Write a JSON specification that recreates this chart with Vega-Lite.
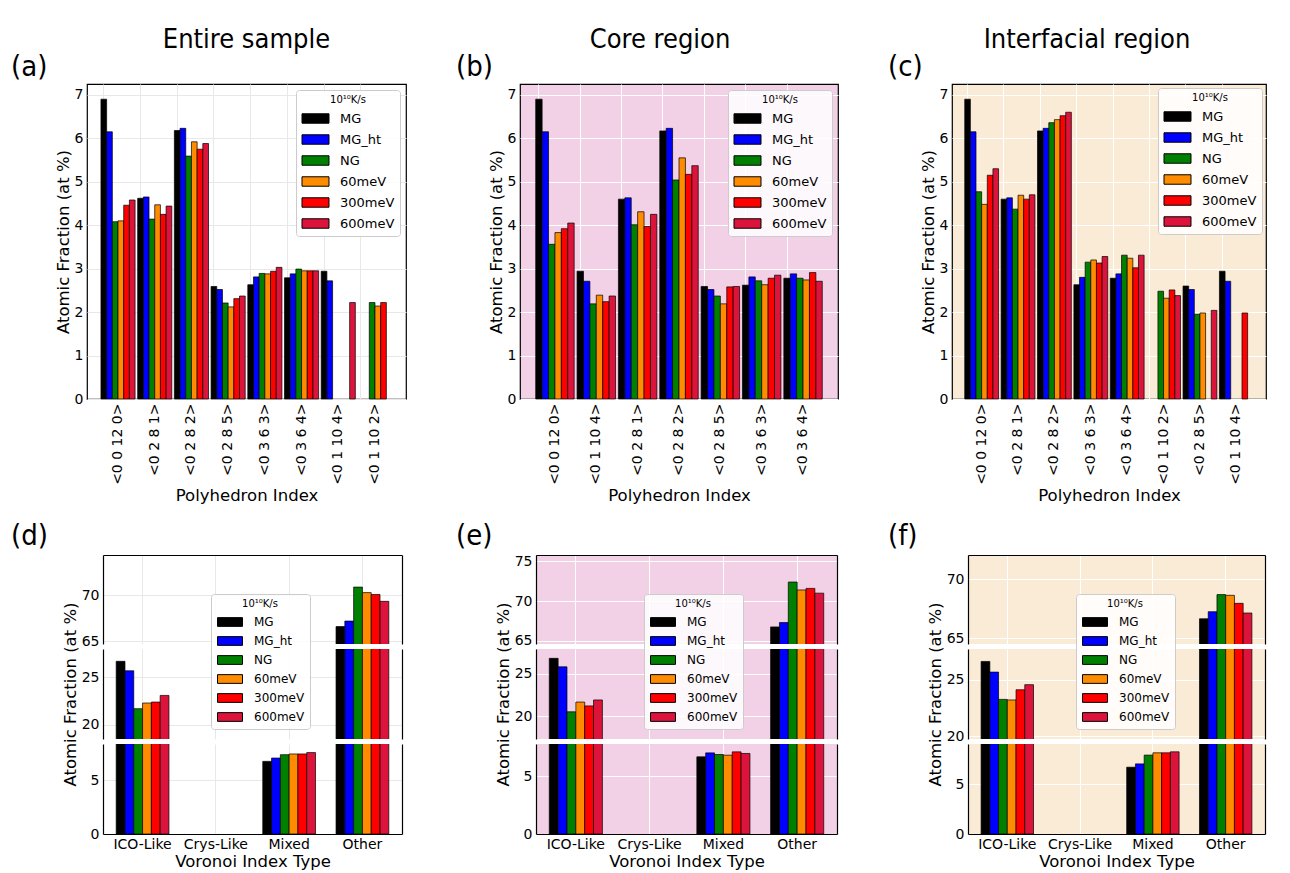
{
"$schema": "https://vega.github.io/schema/vega-lite/v6.json",
"padding": {"left": 10, "top": 26, "right": 5, "bottom": 5},
"config": {
  "font": "DejaVu Sans",
  "title": {"font": "DejaVu Sans Condensed, sans-serif", "fontWeight": "normal", "color": "black", "fontSize": 29},
  "axis": {"labelFont": "DejaVu Sans", "titleFont": "DejaVu Sans", "labelColor": "black", "titleColor": "black", "titleFontWeight": "normal", "labelFontSize": 14, "titleFontSize": 16.5, "ticks": false, "domain": false, "labelPadding": 4, "titlePadding": 3, "gridColor": "#e8e8e8"},
  "legend": {"titleFont": "DejaVu Sans", "labelFont": "DejaVu Sans", "titleFontSize": 10, "titleFontWeight": "normal", "labelFontSize": 13, "titleAnchor": "middle", "symbolType": "M-2,-0.7H2V0.7H-2Z", "symbolSize": 182, "symbolStrokeColor": "black", "symbolStrokeWidth": 1, "symbolOffset": 7, "labelOffset": 17, "fillColor": "rgba(255,255,255,0.85)", "strokeColor": "#cccccc", "cornerRadius": 3, "padding": 5, "rowPadding": 6, "titlePadding": 6, "labelColor": "black", "titleColor": "black"}
},
"datasets": {
  "a": [
    {"i":"<0 0 12 0>","s":"MG","v":6.90},{"i":"<0 0 12 0>","s":"MG_ht","v":6.15},{"i":"<0 0 12 0>","s":"NG","v":4.08},{"i":"<0 0 12 0>","s":"60meV","v":4.10},{"i":"<0 0 12 0>","s":"300meV","v":4.46},{"i":"<0 0 12 0>","s":"600meV","v":4.58},
    {"i":"<0 2 8 1>","s":"MG","v":4.62},{"i":"<0 2 8 1>","s":"MG_ht","v":4.65},{"i":"<0 2 8 1>","s":"NG","v":4.14},{"i":"<0 2 8 1>","s":"60meV","v":4.47},{"i":"<0 2 8 1>","s":"300meV","v":4.25},{"i":"<0 2 8 1>","s":"600meV","v":4.44},
    {"i":"<0 2 8 2>","s":"MG","v":6.18},{"i":"<0 2 8 2>","s":"MG_ht","v":6.23},{"i":"<0 2 8 2>","s":"NG","v":5.59},{"i":"<0 2 8 2>","s":"60meV","v":5.92},{"i":"<0 2 8 2>","s":"300meV","v":5.75},{"i":"<0 2 8 2>","s":"600meV","v":5.88},
    {"i":"<0 2 8 5>","s":"MG","v":2.59},{"i":"<0 2 8 5>","s":"MG_ht","v":2.52},{"i":"<0 2 8 5>","s":"NG","v":2.21},{"i":"<0 2 8 5>","s":"60meV","v":2.12},{"i":"<0 2 8 5>","s":"300meV","v":2.31},{"i":"<0 2 8 5>","s":"600meV","v":2.37},
    {"i":"<0 3 6 3>","s":"MG","v":2.63},{"i":"<0 3 6 3>","s":"MG_ht","v":2.81},{"i":"<0 3 6 3>","s":"NG","v":2.89},{"i":"<0 3 6 3>","s":"60meV","v":2.88},{"i":"<0 3 6 3>","s":"300meV","v":2.94},{"i":"<0 3 6 3>","s":"600meV","v":3.03},
    {"i":"<0 3 6 4>","s":"MG","v":2.79},{"i":"<0 3 6 4>","s":"MG_ht","v":2.88},{"i":"<0 3 6 4>","s":"NG","v":2.99},{"i":"<0 3 6 4>","s":"60meV","v":2.95},{"i":"<0 3 6 4>","s":"300meV","v":2.95},{"i":"<0 3 6 4>","s":"600meV","v":2.95},
    {"i":"<0 1 10 4>","s":"MG","v":2.94},{"i":"<0 1 10 4>","s":"MG_ht","v":2.72},{"i":"<0 1 10 4>","s":"600meV","v":2.22},
    {"i":"<0 1 10 2>","s":"NG","v":2.22},{"i":"<0 1 10 2>","s":"60meV","v":2.14},{"i":"<0 1 10 2>","s":"300meV","v":2.22}
  ],
  "b": [
    {"i":"<0 0 12 0>","s":"MG","v":6.90},{"i":"<0 0 12 0>","s":"MG_ht","v":6.15},{"i":"<0 0 12 0>","s":"NG","v":3.56},{"i":"<0 0 12 0>","s":"60meV","v":3.83},{"i":"<0 0 12 0>","s":"300meV","v":3.92},{"i":"<0 0 12 0>","s":"600meV","v":4.05},
    {"i":"<0 1 10 4>","s":"MG","v":2.94},{"i":"<0 1 10 4>","s":"MG_ht","v":2.71},{"i":"<0 1 10 4>","s":"NG","v":2.19},{"i":"<0 1 10 4>","s":"60meV","v":2.39},{"i":"<0 1 10 4>","s":"300meV","v":2.24},{"i":"<0 1 10 4>","s":"600meV","v":2.37},
    {"i":"<0 2 8 1>","s":"MG","v":4.60},{"i":"<0 2 8 1>","s":"MG_ht","v":4.63},{"i":"<0 2 8 1>","s":"NG","v":4.01},{"i":"<0 2 8 1>","s":"60meV","v":4.31},{"i":"<0 2 8 1>","s":"300meV","v":3.97},{"i":"<0 2 8 1>","s":"600meV","v":4.25},
    {"i":"<0 2 8 2>","s":"MG","v":6.17},{"i":"<0 2 8 2>","s":"MG_ht","v":6.23},{"i":"<0 2 8 2>","s":"NG","v":5.04},{"i":"<0 2 8 2>","s":"60meV","v":5.55},{"i":"<0 2 8 2>","s":"300meV","v":5.17},{"i":"<0 2 8 2>","s":"600meV","v":5.37},
    {"i":"<0 2 8 5>","s":"MG","v":2.59},{"i":"<0 2 8 5>","s":"MG_ht","v":2.52},{"i":"<0 2 8 5>","s":"NG","v":2.37},{"i":"<0 2 8 5>","s":"60meV","v":2.19},{"i":"<0 2 8 5>","s":"300meV","v":2.58},{"i":"<0 2 8 5>","s":"600meV","v":2.59},
    {"i":"<0 3 6 3>","s":"MG","v":2.62},{"i":"<0 3 6 3>","s":"MG_ht","v":2.81},{"i":"<0 3 6 3>","s":"NG","v":2.72},{"i":"<0 3 6 3>","s":"60meV","v":2.63},{"i":"<0 3 6 3>","s":"300meV","v":2.78},{"i":"<0 3 6 3>","s":"600meV","v":2.85},
    {"i":"<0 3 6 4>","s":"MG","v":2.78},{"i":"<0 3 6 4>","s":"MG_ht","v":2.88},{"i":"<0 3 6 4>","s":"NG","v":2.78},{"i":"<0 3 6 4>","s":"60meV","v":2.74},{"i":"<0 3 6 4>","s":"300meV","v":2.91},{"i":"<0 3 6 4>","s":"600meV","v":2.71}
  ],
  "c": [
    {"i":"<0 0 12 0>","s":"MG","v":6.90},{"i":"<0 0 12 0>","s":"MG_ht","v":6.15},{"i":"<0 0 12 0>","s":"NG","v":4.77},{"i":"<0 0 12 0>","s":"60meV","v":4.48},{"i":"<0 0 12 0>","s":"300meV","v":5.15},{"i":"<0 0 12 0>","s":"600meV","v":5.30},
    {"i":"<0 2 8 1>","s":"MG","v":4.60},{"i":"<0 2 8 1>","s":"MG_ht","v":4.63},{"i":"<0 2 8 1>","s":"NG","v":4.37},{"i":"<0 2 8 1>","s":"60meV","v":4.69},{"i":"<0 2 8 1>","s":"300meV","v":4.60},{"i":"<0 2 8 1>","s":"600meV","v":4.70},
    {"i":"<0 2 8 2>","s":"MG","v":6.17},{"i":"<0 2 8 2>","s":"MG_ht","v":6.23},{"i":"<0 2 8 2>","s":"NG","v":6.36},{"i":"<0 2 8 2>","s":"60meV","v":6.43},{"i":"<0 2 8 2>","s":"300meV","v":6.52},{"i":"<0 2 8 2>","s":"600meV","v":6.60},
    {"i":"<0 3 6 3>","s":"MG","v":2.63},{"i":"<0 3 6 3>","s":"MG_ht","v":2.80},{"i":"<0 3 6 3>","s":"NG","v":3.15},{"i":"<0 3 6 3>","s":"60meV","v":3.20},{"i":"<0 3 6 3>","s":"300meV","v":3.13},{"i":"<0 3 6 3>","s":"600meV","v":3.28},
    {"i":"<0 3 6 4>","s":"MG","v":2.78},{"i":"<0 3 6 4>","s":"MG_ht","v":2.88},{"i":"<0 3 6 4>","s":"NG","v":3.31},{"i":"<0 3 6 4>","s":"60meV","v":3.24},{"i":"<0 3 6 4>","s":"300meV","v":3.02},{"i":"<0 3 6 4>","s":"600meV","v":3.31},
    {"i":"<0 1 10 2>","s":"NG","v":2.48},{"i":"<0 1 10 2>","s":"60meV","v":2.32},{"i":"<0 1 10 2>","s":"300meV","v":2.51},{"i":"<0 1 10 2>","s":"600meV","v":2.38},
    {"i":"<0 2 8 5>","s":"MG","v":2.60},{"i":"<0 2 8 5>","s":"MG_ht","v":2.52},{"i":"<0 2 8 5>","s":"NG","v":1.95},{"i":"<0 2 8 5>","s":"60meV","v":1.98},{"i":"<0 2 8 5>","s":"600meV","v":2.04},
    {"i":"<0 1 10 4>","s":"MG","v":2.94},{"i":"<0 1 10 4>","s":"MG_ht","v":2.71},{"i":"<0 1 10 4>","s":"300meV","v":1.98}
  ],
  "d": [
    {"i":"ICO-Like","s":"MG","v":26.7},{"i":"ICO-Like","s":"MG_ht","v":25.7},{"i":"ICO-Like","s":"NG","v":21.7},{"i":"ICO-Like","s":"60meV","v":22.3},{"i":"ICO-Like","s":"300meV","v":22.4},{"i":"ICO-Like","s":"600meV","v":23.1},
    {"i":"Mixed","s":"MG","v":6.78},{"i":"Mixed","s":"MG_ht","v":7.09},{"i":"Mixed","s":"NG","v":7.40},{"i":"Mixed","s":"60meV","v":7.47},{"i":"Mixed","s":"300meV","v":7.47},{"i":"Mixed","s":"600meV","v":7.60},
    {"i":"Other","s":"MG","v":66.6},{"i":"Other","s":"MG_ht","v":67.2},{"i":"Other","s":"NG","v":70.9},{"i":"Other","s":"60meV","v":70.3},{"i":"Other","s":"300meV","v":70.1},{"i":"Other","s":"600meV","v":69.35}
  ],
  "e": [
    {"i":"ICO-Like","s":"MG","v":26.8},{"i":"ICO-Like","s":"MG_ht","v":25.8},{"i":"ICO-Like","s":"NG","v":20.5},{"i":"ICO-Like","s":"60meV","v":21.65},{"i":"ICO-Like","s":"300meV","v":21.2},{"i":"ICO-Like","s":"600meV","v":21.9},
    {"i":"Mixed","s":"MG","v":6.69},{"i":"Mixed","s":"MG_ht","v":7.03},{"i":"Mixed","s":"NG","v":6.89},{"i":"Mixed","s":"60meV","v":6.83},{"i":"Mixed","s":"300meV","v":7.12},{"i":"Mixed","s":"600meV","v":6.98},
    {"i":"Other","s":"MG","v":66.75},{"i":"Other","s":"MG_ht","v":67.3},{"i":"Other","s":"NG","v":72.4},{"i":"Other","s":"60meV","v":71.4},{"i":"Other","s":"300meV","v":71.6},{"i":"Other","s":"600meV","v":71.0}
  ],
  "f": [
    {"i":"ICO-Like","s":"MG","v":26.6},{"i":"ICO-Like","s":"MG_ht","v":25.66},{"i":"ICO-Like","s":"NG","v":23.25},{"i":"ICO-Like","s":"60meV","v":23.2},{"i":"ICO-Like","s":"300meV","v":24.1},{"i":"ICO-Like","s":"600meV","v":24.55},
    {"i":"Mixed","s":"MG","v":6.68},{"i":"Mixed","s":"MG_ht","v":7.01},{"i":"Mixed","s":"NG","v":7.89},{"i":"Mixed","s":"60meV","v":8.12},{"i":"Mixed","s":"300meV","v":8.12},{"i":"Mixed","s":"600meV","v":8.22},
    {"i":"Other","s":"MG","v":66.64},{"i":"Other","s":"MG_ht","v":67.24},{"i":"Other","s":"NG","v":68.69},{"i":"Other","s":"60meV","v":68.63},{"i":"Other","s":"300meV","v":67.95},{"i":"Other","s":"600meV","v":67.13}
  ],
  "sp": [{"z": 0}]
},
"spacing": 48,
"resolve": {"scale": {"x": "independent", "y": "independent", "xOffset": "independent", "color": "independent"}, "legend": {"color": "independent"}},
"hconcat": [
 {
  "title": {"text": "Entire sample", "anchor": "middle", "frame": "bounds", "dx": 38, "fontSize": 27, "offset": -2},
  "spacing": 16,
  "resolve": {"scale": {"x": "independent", "y": "independent", "xOffset": "independent", "color": "independent"}, "legend": {"color": "independent"}},
  "vconcat": [
   {
    "title": {"text": "(a)", "anchor": "start", "frame": "group", "dx": -76, "offset": 2},
    "width": 319, "height": 315,
    "view": {"fill": "white", "stroke": "black", "strokeWidth": 1.2},
    "data": {"name": "a"},
    "mark": {"type": "bar", "stroke": "black", "strokeWidth": 0.7},
    "encoding": {
      "x": {"field": "i", "type": "nominal", "scale": {"domain": ["<0 0 12 0>","<0 2 8 1>","<0 2 8 2>","<0 2 8 5>","<0 3 6 3>","<0 3 6 4>","<0 1 10 4>","<0 1 10 2>"], "paddingInner": 0.07, "paddingOuter": 0.38}, "axis": {"title": "Polyhedron Index", "labelAngle": 270, "bandPosition": 0.083, "grid": true}},
      "xOffset": {"field": "s", "type": "nominal", "scale": {"domain": ["MG","MG_ht","NG","60meV","300meV","600meV"], "paddingInner": 0, "paddingOuter": 0}},
      "y": {"field": "v", "type": "quantitative", "scale": {"domain": [0, 7.25], "nice": false, "zero": false}, "axis": {"values": [0,1,2,3,4,5,6,7], "title": "Atomic Fraction (at %)", "grid": true}},
      "color": {"field": "s", "type": "nominal", "scale": {"domain": ["MG","MG_ht","NG","60meV","300meV","600meV"], "range": ["#000000","#0000ff","#008000","#ff8c00","#ff0000","#dc143c"]}, "legend": {"title": "10¹⁰K/s", "orient": "top-right", "offset": 6}}
    }
   },
   {
    "title": {"text": "(d)", "anchor": "start", "frame": "group", "dx": -76, "offset": 2},
    "spacing": 15,
    "bounds": "flush",
    "resolve": {"scale": {"x": "independent", "y": "independent", "xOffset": "independent", "color": "independent"}, "legend": {"color": "independent"}},
    "hconcat": [
     {"width": 1, "height": 1, "view": {"stroke": null, "fill": null}, "data": {"name": "sp"}, "mark": {"type": "point", "opacity": 0}, "encoding": {}},
     {
      "spacing": 5,
      "bounds": "flush",
      "resolve": {"scale": {"x": "independent", "y": "independent", "xOffset": "independent", "color": "independent"}, "legend": {"color": "independent"}},
      "vconcat": [
       {
        "width": 299, "height": 89, "view": {"fill": "white", "stroke": null}, "data": {"name": "d"},
        "resolve": {"axis": {"y": "independent"}},
        "layer": [
         {"mark": {"type": "bar", "stroke": "black", "strokeWidth": 0.7, "clip": true},
          "encoding": {
            "x": {"field": "i", "type": "nominal", "scale": {"domain": ["ICO-Like","Crys-Like","Mixed","Other"], "paddingInner": 0.28, "paddingOuter": 0.18}, "axis": {"orient": "top", "labels": false, "domain": true, "domainColor": "black", "domainWidth": 1.2, "title": null, "grid": true}},
            "xOffset": {"field": "s", "type": "nominal", "scale": {"domain": ["MG","MG_ht","NG","60meV","300meV","600meV"], "paddingInner": 0, "paddingOuter": 0}},
            "y": {"field": "v", "type": "quantitative", "scale": {"domain": [64.7, 74.4], "nice": false, "zero": false}, "axis": {"values": [65, 70], "title": null, "grid": true, "domain": true, "domainColor": "black", "domainWidth": 1.2}},
            "color": {"field": "s", "type": "nominal", "scale": {"domain": ["MG","MG_ht","NG","60meV","300meV","600meV"], "range": ["#000000","#0000ff","#008000","#ff8c00","#ff0000","#dc143c"]}, "legend": null}
          }},
         {"mark": {"type": "rule", "opacity": 0, "clip": true},
          "encoding": {"y": {"field": "v", "type": "quantitative", "scale": {"domain": [64.7, 74.4], "nice": false, "zero": false}, "axis": {"orient": "right", "labels": false, "grid": false, "domain": true, "domainColor": "black", "domainWidth": 1.2, "title": null}}}}
        ]
       },
       {
        "width": 299, "height": 90, "view": {"fill": "white", "stroke": null}, "data": {"name": "d"},
        "resolve": {"axis": {"y": "independent"}},
        "layer": [
         {"mark": {"type": "bar", "stroke": "black", "strokeWidth": 0.7, "clip": true},
          "encoding": {
            "x": {"field": "i", "type": "nominal", "scale": {"domain": ["ICO-Like","Crys-Like","Mixed","Other"], "paddingInner": 0.28, "paddingOuter": 0.18}, "axis": {"labels": false, "domain": false, "title": null, "grid": true}},
            "xOffset": {"field": "s", "type": "nominal", "scale": {"domain": ["MG","MG_ht","NG","60meV","300meV","600meV"], "paddingInner": 0, "paddingOuter": 0}},
            "y": {"field": "v", "type": "quantitative", "scale": {"domain": [18.5, 28], "nice": false, "zero": false}, "axis": {"values": [20, 25], "title": "Atomic Fraction (at %)", "grid": true, "domain": true, "domainColor": "black", "domainWidth": 1.2}},
            "color": {"field": "s", "type": "nominal", "scale": {"domain": ["MG","MG_ht","NG","60meV","300meV","600meV"], "range": ["#000000","#0000ff","#008000","#ff8c00","#ff0000","#dc143c"]}, "legend": {"title": "10¹⁰K/s", "orient": "none", "legendX": 108, "legendY": -55, "labelFontSize": 12, "symbolSize": 156, "rowPadding": 5}}
          }},
         {"mark": {"type": "rule", "opacity": 0, "clip": true},
          "encoding": {"y": {"field": "v", "type": "quantitative", "scale": {"domain": [18.5, 28], "nice": false, "zero": false}, "axis": {"orient": "right", "labels": false, "grid": false, "domain": true, "domainColor": "black", "domainWidth": 1.2, "title": null}}}}
        ]
       },
       {
        "width": 299, "height": 90, "view": {"fill": "white", "stroke": null}, "data": {"name": "d"},
        "resolve": {"axis": {"y": "independent"}},
        "layer": [
         {"mark": {"type": "bar", "stroke": "black", "strokeWidth": 0.7, "clip": true},
          "encoding": {
            "x": {"field": "i", "type": "nominal", "scale": {"domain": ["ICO-Like","Crys-Like","Mixed","Other"], "paddingInner": 0.28, "paddingOuter": 0.18}, "axis": {"labelAngle": 0, "domain": true, "domainColor": "black", "domainWidth": 1.2, "title": "Voronoi Index Type", "grid": true, "labelPadding": 3, "titlePadding": 2}},
            "xOffset": {"field": "s", "type": "nominal", "scale": {"domain": ["MG","MG_ht","NG","60meV","300meV","600meV"], "paddingInner": 0, "paddingOuter": 0}},
            "y": {"field": "v", "type": "quantitative", "scale": {"domain": [0, 8.4], "nice": false, "zero": false}, "axis": {"values": [0, 5], "title": null, "grid": true, "domain": true, "domainColor": "black", "domainWidth": 1.2}},
            "color": {"field": "s", "type": "nominal", "scale": {"domain": ["MG","MG_ht","NG","60meV","300meV","600meV"], "range": ["#000000","#0000ff","#008000","#ff8c00","#ff0000","#dc143c"]}, "legend": null}
          }},
         {"mark": {"type": "rule", "opacity": 0, "clip": true},
          "encoding": {"y": {"field": "v", "type": "quantitative", "scale": {"domain": [0, 8.4], "nice": false, "zero": false}, "axis": {"orient": "right", "labels": false, "grid": false, "domain": true, "domainColor": "black", "domainWidth": 1.2, "title": null}}}}
        ]
       }
      ]
     }
    ]
   }
  ]
 },
 {
  "title": {"text": "Core region", "anchor": "middle", "frame": "bounds", "dx": 13, "fontSize": 27, "offset": -2},
  "spacing": 16,
  "resolve": {"scale": {"x": "independent", "y": "independent", "xOffset": "independent", "color": "independent"}, "legend": {"color": "independent"}},
  "vconcat": [
   {
    "title": {"text": "(b)", "anchor": "start", "frame": "group", "dx": -64, "offset": 2},
    "width": 318, "height": 315,
    "view": {"fill": "#f2d1e6", "stroke": "black", "strokeWidth": 1.2},
    "data": {"name": "b"},
    "mark": {"type": "bar", "stroke": "black", "strokeWidth": 0.7},
    "encoding": {
      "x": {"field": "i", "type": "nominal", "scale": {"domain": ["<0 0 12 0>","<0 1 10 4>","<0 2 8 1>","<0 2 8 2>","<0 2 8 5>","<0 3 6 3>","<0 3 6 4>"], "paddingInner": 0.07, "paddingOuter": 0.38}, "axis": {"title": "Polyhedron Index", "labelAngle": 270, "bandPosition": 0.083, "grid": true, "gridColor": "white"}},
      "xOffset": {"field": "s", "type": "nominal", "scale": {"domain": ["MG","MG_ht","NG","60meV","300meV","600meV"], "paddingInner": 0, "paddingOuter": 0}},
      "y": {"field": "v", "type": "quantitative", "scale": {"domain": [0, 7.25], "nice": false, "zero": false}, "axis": {"values": [0,1,2,3,4,5,6,7], "title": "Atomic Fraction (at %)", "grid": true, "gridColor": "white"}},
      "color": {"field": "s", "type": "nominal", "scale": {"domain": ["MG","MG_ht","NG","60meV","300meV","600meV"], "range": ["#000000","#0000ff","#008000","#ff8c00","#ff0000","#dc143c"]}, "legend": {"title": "10¹⁰K/s", "orient": "top-right", "offset": 6}}
    }
   },
   {
    "title": {"text": "(e)", "anchor": "start", "frame": "group", "dx": -64, "offset": 2},
    "spacing": 15,
    "bounds": "flush",
    "resolve": {"scale": {"x": "independent", "y": "independent", "xOffset": "independent", "color": "independent"}, "legend": {"color": "independent"}},
    "hconcat": [
     {"width": 1, "height": 1, "view": {"stroke": null, "fill": null}, "data": {"name": "sp"}, "mark": {"type": "point", "opacity": 0}, "encoding": {}},
     {
      "spacing": 5,
      "bounds": "flush",
      "resolve": {"scale": {"x": "independent", "y": "independent", "xOffset": "independent", "color": "independent"}, "legend": {"color": "independent"}},
      "vconcat": [
       {
        "width": 301, "height": 89, "view": {"fill": "#f2d1e6", "stroke": null}, "data": {"name": "e"},
        "resolve": {"axis": {"y": "independent"}},
        "layer": [
         {"mark": {"type": "bar", "stroke": "black", "strokeWidth": 0.7, "clip": true},
          "encoding": {
            "x": {"field": "i", "type": "nominal", "scale": {"domain": ["ICO-Like","Crys-Like","Mixed","Other"], "paddingInner": 0.28, "paddingOuter": 0.18}, "axis": {"orient": "top", "labels": false, "domain": true, "domainColor": "black", "domainWidth": 1.2, "title": null, "grid": true, "gridColor": "white"}},
            "xOffset": {"field": "s", "type": "nominal", "scale": {"domain": ["MG","MG_ht","NG","60meV","300meV","600meV"], "paddingInner": 0, "paddingOuter": 0}},
            "y": {"field": "v", "type": "quantitative", "scale": {"domain": [64.6, 75.8], "nice": false, "zero": false}, "axis": {"values": [65, 70, 75], "title": null, "grid": true, "gridColor": "white", "domain": true, "domainColor": "black", "domainWidth": 1.2}},
            "color": {"field": "s", "type": "nominal", "scale": {"domain": ["MG","MG_ht","NG","60meV","300meV","600meV"], "range": ["#000000","#0000ff","#008000","#ff8c00","#ff0000","#dc143c"]}, "legend": null}
          }},
         {"mark": {"type": "rule", "opacity": 0, "clip": true},
          "encoding": {"y": {"field": "v", "type": "quantitative", "scale": {"domain": [64.6, 75.8], "nice": false, "zero": false}, "axis": {"orient": "right", "labels": false, "grid": false, "domain": true, "domainColor": "black", "domainWidth": 1.2, "title": null}}}}
        ]
       },
       {
        "width": 301, "height": 90, "view": {"fill": "#f2d1e6", "stroke": null}, "data": {"name": "e"},
        "resolve": {"axis": {"y": "independent"}},
        "layer": [
         {"mark": {"type": "bar", "stroke": "black", "strokeWidth": 0.7, "clip": true},
          "encoding": {
            "x": {"field": "i", "type": "nominal", "scale": {"domain": ["ICO-Like","Crys-Like","Mixed","Other"], "paddingInner": 0.28, "paddingOuter": 0.18}, "axis": {"labels": false, "domain": false, "title": null, "grid": true, "gridColor": "white"}},
            "xOffset": {"field": "s", "type": "nominal", "scale": {"domain": ["MG","MG_ht","NG","60meV","300meV","600meV"], "paddingInner": 0, "paddingOuter": 0}},
            "y": {"field": "v", "type": "quantitative", "scale": {"domain": [17.3, 27.9], "nice": false, "zero": false}, "axis": {"values": [20, 25], "title": "Atomic Fraction (at %)", "grid": true, "gridColor": "white", "domain": true, "domainColor": "black", "domainWidth": 1.2}},
            "color": {"field": "s", "type": "nominal", "scale": {"domain": ["MG","MG_ht","NG","60meV","300meV","600meV"], "range": ["#000000","#0000ff","#008000","#ff8c00","#ff0000","#dc143c"]}, "legend": {"title": "10¹⁰K/s", "orient": "none", "legendX": 108, "legendY": -55, "labelFontSize": 12, "symbolSize": 156, "rowPadding": 5}}
          }},
         {"mark": {"type": "rule", "opacity": 0, "clip": true},
          "encoding": {"y": {"field": "v", "type": "quantitative", "scale": {"domain": [17.3, 27.9], "nice": false, "zero": false}, "axis": {"orient": "right", "labels": false, "grid": false, "domain": true, "domainColor": "black", "domainWidth": 1.2, "title": null}}}}
        ]
       },
       {
        "width": 301, "height": 90, "view": {"fill": "#f2d1e6", "stroke": null}, "data": {"name": "e"},
        "resolve": {"axis": {"y": "independent"}},
        "layer": [
         {"mark": {"type": "bar", "stroke": "black", "strokeWidth": 0.7, "clip": true},
          "encoding": {
            "x": {"field": "i", "type": "nominal", "scale": {"domain": ["ICO-Like","Crys-Like","Mixed","Other"], "paddingInner": 0.28, "paddingOuter": 0.18}, "axis": {"labelAngle": 0, "domain": true, "domainColor": "black", "domainWidth": 1.2, "title": "Voronoi Index Type", "grid": true, "gridColor": "white", "labelPadding": 3, "titlePadding": 2}},
            "xOffset": {"field": "s", "type": "nominal", "scale": {"domain": ["MG","MG_ht","NG","60meV","300meV","600meV"], "paddingInner": 0, "paddingOuter": 0}},
            "y": {"field": "v", "type": "quantitative", "scale": {"domain": [0, 7.8], "nice": false, "zero": false}, "axis": {"values": [0, 5], "title": null, "grid": true, "gridColor": "white", "domain": true, "domainColor": "black", "domainWidth": 1.2}},
            "color": {"field": "s", "type": "nominal", "scale": {"domain": ["MG","MG_ht","NG","60meV","300meV","600meV"], "range": ["#000000","#0000ff","#008000","#ff8c00","#ff0000","#dc143c"]}, "legend": null}
          }},
         {"mark": {"type": "rule", "opacity": 0, "clip": true},
          "encoding": {"y": {"field": "v", "type": "quantitative", "scale": {"domain": [0, 7.8], "nice": false, "zero": false}, "axis": {"orient": "right", "labels": false, "grid": false, "domain": true, "domainColor": "black", "domainWidth": 1.2, "title": null}}}}
        ]
       }
      ]
     }
    ]
   }
  ]
 },
 {
  "title": {"text": "Interfacial region", "anchor": "middle", "frame": "bounds", "dx": 10, "fontSize": 27, "offset": -2},
  "spacing": 16,
  "resolve": {"scale": {"x": "independent", "y": "independent", "xOffset": "independent", "color": "independent"}, "legend": {"color": "independent"}},
  "vconcat": [
   {
    "title": {"text": "(c)", "anchor": "start", "frame": "group", "dx": -64, "offset": 2},
    "width": 314, "height": 315,
    "view": {"fill": "#faebd7", "stroke": "black", "strokeWidth": 1.2},
    "data": {"name": "c"},
    "mark": {"type": "bar", "stroke": "black", "strokeWidth": 0.7},
    "encoding": {
      "x": {"field": "i", "type": "nominal", "scale": {"domain": ["<0 0 12 0>","<0 2 8 1>","<0 2 8 2>","<0 3 6 3>","<0 3 6 4>","<0 1 10 2>","<0 2 8 5>","<0 1 10 4>"], "paddingInner": 0.07, "paddingOuter": 0.35}, "axis": {"title": "Polyhedron Index", "labelAngle": 270, "bandPosition": 0.083, "grid": true, "gridColor": "white"}},
      "xOffset": {"field": "s", "type": "nominal", "scale": {"domain": ["MG","MG_ht","NG","60meV","300meV","600meV"], "paddingInner": 0, "paddingOuter": 0}},
      "y": {"field": "v", "type": "quantitative", "scale": {"domain": [0, 7.25], "nice": false, "zero": false}, "axis": {"values": [0,1,2,3,4,5,6,7], "title": "Atomic Fraction (at %)", "grid": true, "gridColor": "white"}},
      "color": {"field": "s", "type": "nominal", "scale": {"domain": ["MG","MG_ht","NG","60meV","300meV","600meV"], "range": ["#000000","#0000ff","#008000","#ff8c00","#ff0000","#dc143c"]}, "legend": {"title": "10¹⁰K/s", "orient": "top-right", "offset": 4}}
    }
   },
   {
    "title": {"text": "(f)", "anchor": "start", "frame": "group", "dx": -64, "offset": 2},
    "spacing": 15,
    "bounds": "flush",
    "resolve": {"scale": {"x": "independent", "y": "independent", "xOffset": "independent", "color": "independent"}, "legend": {"color": "independent"}},
    "hconcat": [
     {"width": 1, "height": 1, "view": {"stroke": null, "fill": null}, "data": {"name": "sp"}, "mark": {"type": "point", "opacity": 0}, "encoding": {}},
     {
      "spacing": 5,
      "bounds": "flush",
      "resolve": {"scale": {"x": "independent", "y": "independent", "xOffset": "independent", "color": "independent"}, "legend": {"color": "independent"}},
      "vconcat": [
       {
        "width": 297, "height": 89, "view": {"fill": "#faebd7", "stroke": null}, "data": {"name": "f"},
        "resolve": {"axis": {"y": "independent"}},
        "layer": [
         {"mark": {"type": "bar", "stroke": "black", "strokeWidth": 0.7, "clip": true},
          "encoding": {
            "x": {"field": "i", "type": "nominal", "scale": {"domain": ["ICO-Like","Crys-Like","Mixed","Other"], "paddingInner": 0.28, "paddingOuter": 0.18}, "axis": {"orient": "top", "labels": false, "domain": true, "domainColor": "black", "domainWidth": 1.2, "title": null, "grid": true, "gridColor": "white"}},
            "xOffset": {"field": "s", "type": "nominal", "scale": {"domain": ["MG","MG_ht","NG","60meV","300meV","600meV"], "paddingInner": 0, "paddingOuter": 0}},
            "y": {"field": "v", "type": "quantitative", "scale": {"domain": [64.5, 72.05], "nice": false, "zero": false}, "axis": {"values": [65, 70], "title": null, "grid": true, "gridColor": "white", "domain": true, "domainColor": "black", "domainWidth": 1.2}},
            "color": {"field": "s", "type": "nominal", "scale": {"domain": ["MG","MG_ht","NG","60meV","300meV","600meV"], "range": ["#000000","#0000ff","#008000","#ff8c00","#ff0000","#dc143c"]}, "legend": null}
          }},
         {"mark": {"type": "rule", "opacity": 0, "clip": true},
          "encoding": {"y": {"field": "v", "type": "quantitative", "scale": {"domain": [64.5, 72.05], "nice": false, "zero": false}, "axis": {"orient": "right", "labels": false, "grid": false, "domain": true, "domainColor": "black", "domainWidth": 1.2, "title": null}}}}
        ]
       },
       {
        "width": 297, "height": 90, "view": {"fill": "#faebd7", "stroke": null}, "data": {"name": "f"},
        "resolve": {"axis": {"y": "independent"}},
        "layer": [
         {"mark": {"type": "bar", "stroke": "black", "strokeWidth": 0.7, "clip": true},
          "encoding": {
            "x": {"field": "i", "type": "nominal", "scale": {"domain": ["ICO-Like","Crys-Like","Mixed","Other"], "paddingInner": 0.28, "paddingOuter": 0.18}, "axis": {"labels": false, "domain": false, "title": null, "grid": true, "gridColor": "white"}},
            "xOffset": {"field": "s", "type": "nominal", "scale": {"domain": ["MG","MG_ht","NG","60meV","300meV","600meV"], "paddingInner": 0, "paddingOuter": 0}},
            "y": {"field": "v", "type": "quantitative", "scale": {"domain": [19.75, 27.7], "nice": false, "zero": false}, "axis": {"values": [20, 25], "title": "Atomic Fraction (at %)", "grid": true, "gridColor": "white", "domain": true, "domainColor": "black", "domainWidth": 1.2}},
            "color": {"field": "s", "type": "nominal", "scale": {"domain": ["MG","MG_ht","NG","60meV","300meV","600meV"], "range": ["#000000","#0000ff","#008000","#ff8c00","#ff0000","#dc143c"]}, "legend": {"title": "10¹⁰K/s", "orient": "none", "legendX": 108, "legendY": -55, "labelFontSize": 12, "symbolSize": 156, "rowPadding": 5}}
          }},
         {"mark": {"type": "rule", "opacity": 0, "clip": true},
          "encoding": {"y": {"field": "v", "type": "quantitative", "scale": {"domain": [19.75, 27.7], "nice": false, "zero": false}, "axis": {"orient": "right", "labels": false, "grid": false, "domain": true, "domainColor": "black", "domainWidth": 1.2, "title": null}}}}
        ]
       },
       {
        "width": 297, "height": 90, "view": {"fill": "#faebd7", "stroke": null}, "data": {"name": "f"},
        "resolve": {"axis": {"y": "independent"}},
        "layer": [
         {"mark": {"type": "bar", "stroke": "black", "strokeWidth": 0.7, "clip": true},
          "encoding": {
            "x": {"field": "i", "type": "nominal", "scale": {"domain": ["ICO-Like","Crys-Like","Mixed","Other"], "paddingInner": 0.28, "paddingOuter": 0.18}, "axis": {"labelAngle": 0, "domain": true, "domainColor": "black", "domainWidth": 1.2, "title": "Voronoi Index Type", "grid": true, "gridColor": "white", "labelPadding": 3, "titlePadding": 2}},
            "xOffset": {"field": "s", "type": "nominal", "scale": {"domain": ["MG","MG_ht","NG","60meV","300meV","600meV"], "paddingInner": 0, "paddingOuter": 0}},
            "y": {"field": "v", "type": "quantitative", "scale": {"domain": [0, 9.0], "nice": false, "zero": false}, "axis": {"values": [0, 5], "title": null, "grid": true, "gridColor": "white", "domain": true, "domainColor": "black", "domainWidth": 1.2}},
            "color": {"field": "s", "type": "nominal", "scale": {"domain": ["MG","MG_ht","NG","60meV","300meV","600meV"], "range": ["#000000","#0000ff","#008000","#ff8c00","#ff0000","#dc143c"]}, "legend": null}
          }},
         {"mark": {"type": "rule", "opacity": 0, "clip": true},
          "encoding": {"y": {"field": "v", "type": "quantitative", "scale": {"domain": [0, 9.0], "nice": false, "zero": false}, "axis": {"orient": "right", "labels": false, "grid": false, "domain": true, "domainColor": "black", "domainWidth": 1.2, "title": null}}}}
        ]
       }
      ]
     }
    ]
   }
  ]
 }
]
}
